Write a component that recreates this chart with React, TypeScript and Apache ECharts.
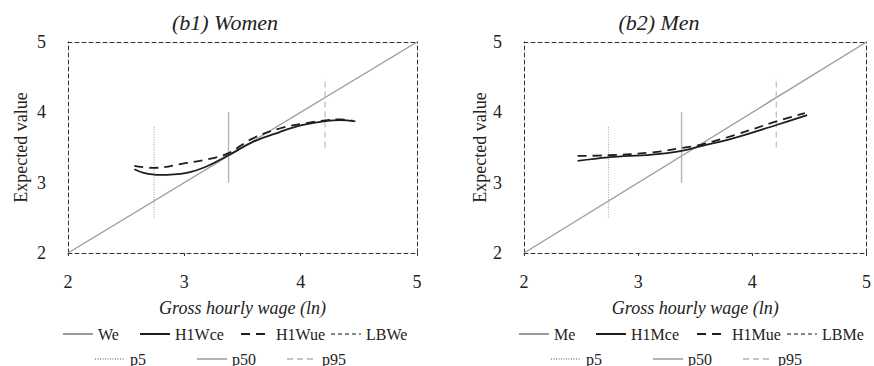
import React, { useEffect, useRef } from "react";
import * as echarts from "echarts";

const FONT = "'Liberation Serif', 'Times New Roman', serif";

// Axis range / ticks
const AXIS_MIN = 2;
const AXIS_MAX = 5;
const AXIS_INTERVAL = 1;

// Diagonal (45° line)
const diagX = [2, 5];
const diagY = [2, 5];

// Women
const womenCeX = [2.57, 2.65, 2.79, 3.02, 3.19, 3.38, 3.59, 3.82, 4.02, 4.23, 4.34, 4.47];
const womenCeY = [3.19, 3.14, 3.11, 3.14, 3.23, 3.39, 3.58, 3.72, 3.82, 3.88, 3.89, 3.87];
const womenUeX = [2.57, 2.73, 3.02, 3.25, 3.38, 3.59, 3.82, 4.02, 4.23, 4.34, 4.45];
const womenUeY = [3.24, 3.21, 3.28, 3.35, 3.42, 3.63, 3.77, 3.84, 3.89, 3.9, 3.88];

// Men
const menCeX = [2.47, 2.74, 3.12, 3.37, 3.55, 3.83, 4.21, 4.48];
const menCeY = [3.31, 3.36, 3.4, 3.45, 3.52, 3.63, 3.82, 3.96];
const menUeX = [2.47, 2.74, 3.12, 3.37, 3.55, 3.83, 4.21, 4.46];
const menUeY = [3.38, 3.39, 3.43, 3.49, 3.54, 3.67, 3.87, 3.99];

// Percentile markers: x position, y from, y to
const pctNames = ["p5", "p50", "p95"];
const pctX = [2.74, 3.38, 4.21];
const pctYFrom = [2.5, 3.0, 3.5];
const pctYTo = [3.8, 4.0, 4.5];

const zip = (xs: number[], ys: number[]) => xs.map((x, i) => [x, ys[i]]);

const pctStyles = [
  { color: "#a8a8a8", width: 1.2, type: [1, 1.5] as any },
  { color: "#b4b4b4", width: 1.4, type: "solid" as any },
  { color: "#c4c4c4", width: 1.4, type: [6, 4] as any },
];

const NOSYM = { color: "rgba(0,0,0,0)", borderWidth: 0 };

function panelSeries(
  g: number,
  names: string[],
  ceX: number[],
  ceY: number[],
  ueX: number[],
  ueY: number[]
) {
  const base = {
    type: "line",
    xAxisIndex: g * 2,
    yAxisIndex: g * 2,
    symbol: "none",
    showSymbol: false,
    silent: true,
    itemStyle: NOSYM,
    emphasis: { disabled: true },
  };
  const s: any[] = [
    { ...base, name: names[0], data: zip(diagX, diagY), lineStyle: { color: "#9a9a9a", width: 1.3 }, z: 2 },
    { ...base, name: names[1], data: zip(ceX, ceY), smooth: 0.4, lineStyle: { color: "#1e1e1e", width: 1.8 }, z: 4 },
    { ...base, name: names[2], data: zip(ueX, ueY), smooth: 0.4, lineStyle: { color: "#1e1e1e", width: 1.8, type: [9, 6] }, z: 4 },
    { ...base, name: names[3], data: [], lineStyle: { color: "#8a8a8a", width: 1.2, type: [4, 3] } },
  ];
  pctNames.forEach((n, i) => {
    s.push({
      ...base,
      name: n,
      data: [
        [pctX[i], pctYFrom[i]],
        [pctX[i], pctYTo[i]],
      ],
      lineStyle: pctStyles[i],
      z: 3,
    });
  });
  return s;
}

function leg(name: string, left: number, top: number) {
  return {
    data: [name],
    left,
    top,
    itemWidth: 30,
    itemHeight: 12,
    itemGap: 0,
    padding: 0,
    selectedMode: false,
    itemStyle: { color: "rgba(0,0,0,0)", borderWidth: 0, opacity: 0 },
    textStyle: { fontFamily: FONT, fontSize: 16, color: "#222" },
  };
}

function axesFor(g: number, yNameGap: number) {
  const dashLine = { show: true, lineStyle: { color: "#333", width: 1, type: [4, 3] as any } };
  const x = [
    {
      type: "value",
      gridIndex: g,
      min: AXIS_MIN,
      max: AXIS_MAX,
      interval: AXIS_INTERVAL,
      position: "bottom",
      axisLine: dashLine,
      axisTick: { show: true, length: 3, lineStyle: { color: "#333" } },
      axisLabel: { fontFamily: FONT, fontSize: 18, color: "#222", margin: 20 },
      splitLine: { show: false },
      name: "Gross hourly wage (ln)",
      nameLocation: "middle",
      nameGap: 46,
      nameTextStyle: { fontFamily: FONT, fontSize: 18, fontStyle: "italic", color: "#222" },
    },
    {
      type: "value",
      gridIndex: g,
      min: AXIS_MIN,
      max: AXIS_MAX,
      interval: AXIS_INTERVAL,
      position: "top",
      axisLine: dashLine,
      axisTick: { show: false },
      axisLabel: { show: false },
      splitLine: { show: false },
    },
  ];
  const y = [
    {
      type: "value",
      gridIndex: g,
      min: AXIS_MIN,
      max: AXIS_MAX,
      interval: AXIS_INTERVAL,
      position: "left",
      axisLine: dashLine,
      axisTick: { show: false },
      axisLabel: { fontFamily: FONT, fontSize: 18, color: "#222", margin: 22 },
      splitLine: { show: false },
      name: "Expected value",
      nameLocation: "middle",
      nameGap: yNameGap,
      nameRotate: 90,
      nameTextStyle: { fontFamily: FONT, fontSize: 18, color: "#222" },
    },
    {
      type: "value",
      gridIndex: g,
      min: AXIS_MIN,
      max: AXIS_MAX,
      interval: AXIS_INTERVAL,
      position: "right",
      axisLine: dashLine,
      axisTick: { show: false },
      axisLabel: { show: false },
      splitLine: { show: false },
    },
  ];
  return { x, y };
}

export default function App() {
  const ref = useRef<HTMLDivElement>(null);
  useEffect(() => {
    document.body.style.margin = "0";
    const chart = echarts.init(ref.current!, null, { renderer: "svg" });
    const a0 = axesFor(0, 38);
    const a1 = axesFor(1, 24);
    const wNames = ["We", "H1Wce", "H1Wue", "LBWe"];
    const mNames = ["Me", "H1Mce", "H1Mue", "LBMe"];
    const row1 = 326;
    const row2 = 351;
    const off = 456;
    chart.setOption({
      animation: false,
      backgroundColor: "#ffffff",
      grid: [
        { left: 68, top: 42, width: 349, height: 211 },
        { left: 524, top: 42, width: 348, height: 211 },
      ],
      xAxis: [...a0.x, ...a1.x],
      yAxis: [...a0.y, ...a1.y],
      legend: [
        leg("We", 62, row1),
        leg("H1Wce", 139, row1),
        leg("H1Wue", 240, row1),
        leg("LBWe", 330, row1),
        leg("p5", 94, row2),
        leg("p50", 196, row2),
        leg("p95", 286, row2),
        leg("Me", 62 + off, row1),
        leg("H1Mce", 139 + off, row1),
        leg("H1Mue", 240 + off, row1),
        leg("LBMe", 330 + off, row1),
        leg("p5", 94 + off, row2),
        leg("p50", 196 + off, row2),
        leg("p95", 286 + off, row2),
      ],
      graphic: [
        {
          type: "text",
          x: 225,
          y: 22,
          style: {
            text: "(b1) Women",
            font: `italic 22px ${FONT}`,
            fill: "#222",
            textAlign: "center",
            textVerticalAlign: "middle",
          },
        },
        {
          type: "text",
          x: 659,
          y: 22,
          style: {
            text: "(b2) Men",
            font: `italic 22px ${FONT}`,
            fill: "#222",
            textAlign: "center",
            textVerticalAlign: "middle",
          },
        },
      ],
      series: [
        ...panelSeries(0, wNames, womenCeX, womenCeY, womenUeX, womenUeY),
        ...panelSeries(1, mNames, menCeX, menCeY, menUeX, menUeY),
      ],
    });
    return () => chart.dispose();
  }, []);
  return (
    <div
      ref={ref}
      style={{ position: "fixed", left: 0, top: 0, width: 874, height: 366, background: "#fff" }}
    />
  );
}
